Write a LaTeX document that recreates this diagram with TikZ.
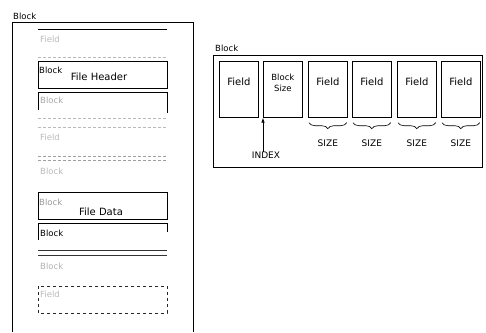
\documentclass[tikz,border=0pt]{standalone}
\usepackage{fontspec}
\setmainfont{DejaVu Sans}
\usetikzlibrary{decorations.pathreplacing,arrows.meta}
\begin{document}
\begin{tikzpicture}[x=1pt,y=-1pt,
  lbl/.style={inner sep=0pt, font=\fontsize{8.5}{10}\selectfont},
  big/.style={inner sep=0pt, font=\fontsize{10}{12}\selectfont},
  captxt/.style={inner sep=0pt, font=\fontsize{9}{11}\selectfont},
  fbox/.style={draw, line width=0.7pt, minimum width=39pt, minimum height=56pt,
    inner sep=0pt, anchor=north west, align=center, font=\fontsize{10}{12}\selectfont},
  wide/.style={draw, line width=0.7pt, minimum width=129pt, minimum height=27pt,
    inner sep=0pt, anchor=north west},
  faint/.style={draw=gray!55, dash pattern=on 3pt off 2pt, line width=0.6pt},
  ftext/.style={lbl, text=gray!55},
  brc/.style={draw, line width=0.6pt, decorate, decoration={brace, amplitude=6pt}},
  frame/.style={draw, line width=0.6pt}
]
\useasboundingbox (0,0) rectangle (486,332);

% ---------------- left panel ----------------
\node[lbl, anchor=south west] (ltitle) at (13,20) {Block};
\draw[frame] (12,332) |- (193,22) -- (193,332);

% faint first block
\draw[line width=0.9pt] (38,29) -- (167,29);
\node[ftext, anchor=west] (fa) at (40,39) {Field};
\draw[faint] (38,57) -- (167,57);

% File Header block
\node[wide] (hdr) at (38,61) {};
\node[lbl, anchor=west] (hdrb) at (39,70) {Block};
\node[big] (hdrt) at (99,77) {File Header};

% next block
\draw[line width=0.7pt] (38,110) |- (167,92) -- (167,113);
\node[lbl, anchor=west, text=gray!70] (bc) at (40,100) {Block};
\draw[faint] (38,118) -- (167,118);
\draw[faint] (38,127) -- (167,127);
\node[ftext, anchor=west] (fc) at (40,137) {Field};
\draw[faint, draw=gray!75] (38,156) -- (167,156);
\draw[faint, draw=gray!75] (38,160) -- (167,160);
\node[ftext, anchor=west] (bd) at (40,171) {Block};

% File Data block
\node[wide] (dat) at (38,192) {};
\node[lbl, anchor=west, text=gray!80] (datb) at (39,202) {Block};
\node[big] (datt) at (101,212) {File Data};

% following block
\draw[line width=0.7pt] (38,240) |- (167,223) -- (167,232);
\node[lbl, anchor=west] (be) at (40,233) {Block};
\draw[line width=0.8pt, gray!40!black] (38,250) -- (167,250);
\draw[line width=0.8pt, gray!40!black] (38,255) -- (167,255);
\node[lbl, anchor=west, text=gray!60] (bf) at (40,266) {Block};

% dashed last block
\draw[dashed, line width=0.6pt, gray!30!black] (38,286) rectangle (167,313);
\node[ftext, anchor=west] (fg) at (40,294) {Field};

% ---------------- right panel ----------------
\node[lbl, anchor=south west] (rtitle) at (215,52) {Block};
\node[draw, line width=0.7pt, minimum width=269pt, minimum height=112pt,
  inner sep=0pt, anchor=north west] (rblk) at (213,55) {};

\node[fbox] (b1) at (219,61) {Field\\[4pt]};
\node[fbox, font=\fontsize{8.5}{11}\selectfont] (b2) at (263,61) {Block\\Size\\[2pt]};
\node[fbox] (b3) at (308,61) {Field\\[4pt]};
\node[fbox] (b4) at (352,61) {Field\\[4pt]};
\node[fbox] (b5) at (397,61) {Field\\[4pt]};
\node[fbox] (b6) at (441,61) {Field\\[4pt]};

\foreach \b in {b3,b4,b5,b6}{
  \draw[brc] ([xshift=-1pt,yshift=-5pt]\b.south east) -- ([xshift=1pt,yshift=-5pt]\b.south west);
  \node[captxt] (s\b) at ([yshift=-26pt]\b.south) {SIZE};
}

\node[captxt] (idx) at (266,155) {INDEX};
\draw[line width=0.7pt, -{Latex[length=5pt,width=3.5pt]}] (idx.north -| b2.south west) -- (b2.south west);
\end{tikzpicture}
\end{document}
